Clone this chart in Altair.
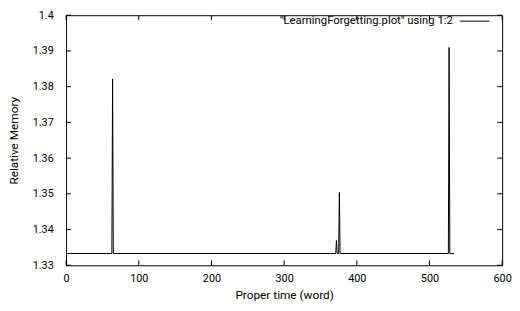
import altair as alt
import pandas as pd

# Data
time = [0, 63, 64, 65, 371, 372, 373, 375, 376, 377, 526, 527, 528, 534]
memory = [1.3333, 1.3333, 1.3822, 1.3333, 1.3333, 1.3369, 1.3333, 1.3333, 1.3504,
          1.3333, 1.3333, 1.3910, 1.3333, 1.3333]

x_ticks = [0, 100, 200, 300, 400, 500, 600]
y_ticks = [1.33, 1.34, 1.35, 1.36, 1.37, 1.38, 1.39, 1.40]
legend_label = '"LearningForgetting.plot" using 1:2'

W, H = 443, 254
FONT = "Roboto"
FS = 11
TFS = 12
LFS = 11.5
TICK = 5

df = pd.DataFrame({"t": time, "m": memory})
xt = pd.DataFrame({"v": x_ticks})
yt = pd.DataFrame({"v": y_ticks})

xscale = alt.Scale(domain=[0, 600], nice=False)
yscale = alt.Scale(domain=[1.33, 1.40], nice=False, zero=False)

xaxis = alt.Axis(title="Proper time (word)", values=x_ticks, format="d",
                 ticks=False, domain=False, grid=False, labelPadding=8,
                 labelOverlap=False, labelFlush=False,
                 labelFont=FONT, labelFontSize=FS, labelColor="black",
                 titleFont=FONT, titleFontSize=TFS, titleFontWeight="normal",
                 titleColor="black", titleY=30, titleBaseline="middle")
yaxis = alt.Axis(title="Relative Memory", values=y_ticks, format=".2~f",
                 ticks=False, domain=False, grid=False, labelPadding=13,
                 labelOverlap=False, labelFlush=False,
                 labelFont=FONT, labelFontSize=FS, labelColor="black",
                 titleFont=FONT, titleFontSize=TFS, titleFontWeight="normal",
                 titleColor="black", titleX=-53, titleY=H / 2,
                 titleAngle=-90, titleBaseline="middle")

line = alt.Chart(df).mark_line(color="black", strokeWidth=1, interpolate="linear").encode(
    x=alt.X("t:Q", scale=xscale, axis=xaxis, title="Proper time (word)"),
    y=alt.Y("m:Q", scale=yscale, axis=yaxis, title="Relative Memory"),
)

bottom_ticks = alt.Chart(xt).mark_rule(color="black", strokeWidth=1).encode(
    x=alt.X("v:Q", scale=xscale, axis=xaxis, title="Proper time (word)"),
    y=alt.value(H), y2=alt.value(H - TICK))
top_ticks = alt.Chart(xt).mark_rule(color="black", strokeWidth=1).encode(
    x=alt.X("v:Q", scale=xscale, axis=xaxis, title="Proper time (word)"),
    y=alt.value(0), y2=alt.value(TICK))
left_ticks = alt.Chart(yt).mark_rule(color="black", strokeWidth=1).encode(
    y=alt.Y("v:Q", scale=yscale, axis=yaxis, title="Relative Memory"),
    x=alt.value(0), x2=alt.value(TICK))
right_ticks = alt.Chart(yt).mark_rule(color="black", strokeWidth=1).encode(
    y=alt.Y("v:Q", scale=yscale, axis=yaxis, title="Relative Memory"),
    x=alt.value(W), x2=alt.value(W - TICK))

leg = pd.DataFrame({"label": [legend_label]})
leg_text = alt.Chart(leg).mark_text(align="right", baseline="middle", font=FONT,
                                    fontSize=LFS, color="black").encode(
    text="label:N", x=alt.value(393), y=alt.value(6))
leg_line = alt.Chart(leg).mark_rule(color="black", strokeWidth=1).encode(
    x=alt.value(400), x2=alt.value(430), y=alt.value(6))

chart = alt.layer(line, bottom_ticks, top_ticks, left_ticks, right_ticks,
                  leg_text, leg_line).properties(
    width=W, height=H,
    background="white",
    autosize=alt.AutoSizeParams(type="none"),
    padding={"left": 59, "top": 5, "right": 10, "bottom": 36},
).configure_view(stroke="black", strokeWidth=1)

chart.save("out.html", embed_options={"renderer": "svg", "actions": False})
